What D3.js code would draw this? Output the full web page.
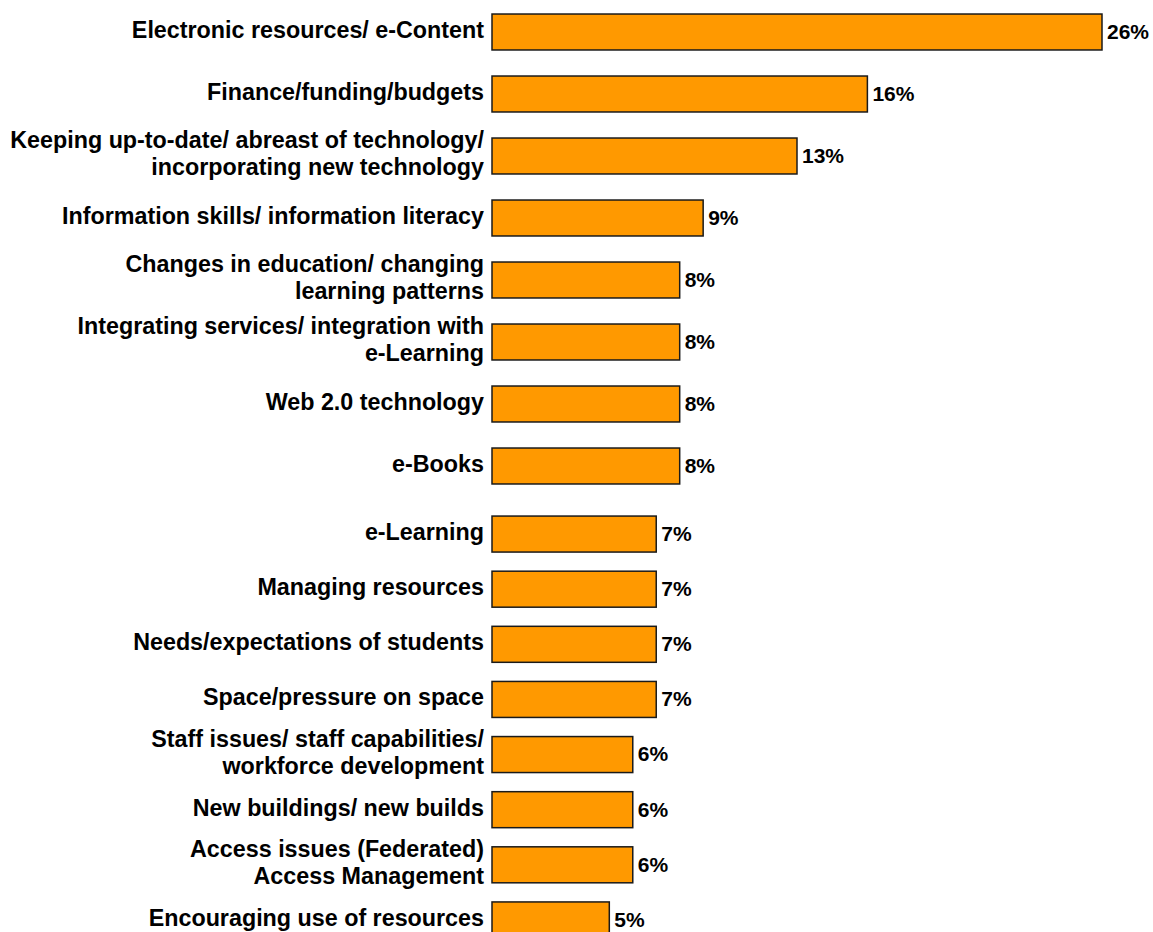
<!DOCTYPE html>
<html>
<head>
<meta charset="utf-8">
<script src="https://cdn.jsdelivr.net/npm/d3@7/dist/d3.min.js"></script>
<style>
  html, body { margin: 0; padding: 0; background: #fff; }
  svg { display: block; }
  text { font-family: "Liberation Sans", Arial, sans-serif; font-weight: bold; fill: #000; }
</style>
</head>
<body>
<svg id="chart" width="1153" height="932"></svg>
<script>
// Issues named by respondents (share of responses, %)
const categories = [
  "Electronic resources/ e-Content",
  "Finance/funding/budgets",
  "Keeping up-to-date/ abreast of technology/\nincorporating new technology",
  "Information skills/ information literacy",
  "Changes in education/ changing\nlearning patterns",
  "Integrating services/ integration with\ne-Learning",
  "Web 2.0 technology",
  "e-Books",
  "e-Learning",
  "Managing resources",
  "Needs/expectations of students",
  "Space/pressure on space",
  "Staff issues/ staff capabilities/\nworkforce development",
  "New buildings/ new builds",
  "Access issues (Federated)\nAccess Management",
  "Encouraging use of resources"
];
const values = [26, 16, 13, 9, 8, 8, 8, 8, 7, 7, 7, 7, 6, 6, 6, 5];

const svg = d3.select("#chart");

const x = d3.scaleLinear().domain([0, 26]).range([492, 1102]);

// The list is laid out in two blocks with slightly different row spacing
const upper = categories.slice(0, 8);
const lower = categories.slice(8);
const yUpper = d3.scaleBand().domain(upper).range([1, 497])
  .paddingInner(0.42).paddingOuter(0.21);
const yLower = d3.scaleBand().domain(lower).range([506.5, 947.5])
  .paddingInner(0.347).paddingOuter(0.1735);
const yPos = c => (yUpper.domain().includes(c) ? yUpper(c) : yLower(c));
const bw = c => (yUpper.domain().includes(c) ? yUpper.bandwidth() : yLower.bandwidth());

const rows = categories.map((c, i) => ({ c, v: values[i] }));

const g = svg.append("g");

// bars
g.selectAll("rect.bar").data(rows).join("rect")
  .attr("class", "bar")
  .attr("x", x(0))
  .attr("y", d => yPos(d.c))
  .attr("width", d => x(d.v) - x(0))
  .attr("height", d => bw(d.c))
  .attr("fill", "#FF9900")
  .attr("stroke", "#1a1a1a")
  .attr("stroke-width", 1.5);

// value labels
g.selectAll("text.val").data(rows).join("text")
  .attr("class", "val")
  .attr("x", d => x(d.v) + 5)
  .attr("y", d => yPos(d.c) + bw(d.c) / 2)
  .attr("dy", "0.33em")
  .style("font-size", "21px")
  .text(d => d.v + "%");

// category labels (may wrap onto two lines)
const lineH = 27;
const lab = g.selectAll("text.cat").data(rows).join("text")
  .attr("class", "cat")
  .attr("text-anchor", "end")
  .style("font-size", "23.3px")
  .attr("transform", d => `translate(484,${yPos(d.c) + bw(d.c) / 2})`);

lab.each(function(d) {
  const lines = d.c.split("\n");
  const t = d3.select(this);
  lines.forEach((ln, i) => {
    t.append("tspan")
      .attr("x", 0)
      .attr("y", (i - (lines.length - 1) / 2) * lineH)
      .attr("dy", "0.25em")
      .text(ln);
  });
});
</script>
</body>
</html>
